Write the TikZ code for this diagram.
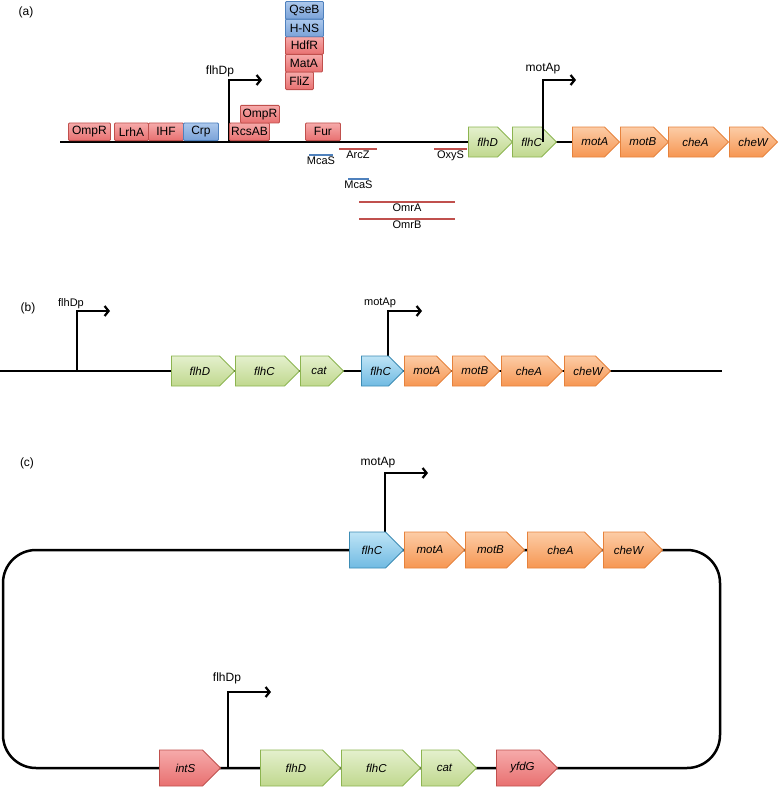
\documentclass[tikz,border=0pt]{standalone}
\usepackage{fontspec}
\setmainfont{Liberation Sans}
\usetikzlibrary{shapes.symbols,arrows.meta}

\definecolor{redtop}{RGB}{246,170,170}
\definecolor{redbot}{RGB}{232,112,112}
\definecolor{reddraw}{RGB}{192,80,77}
\definecolor{bluetop}{RGB}{172,200,236}
\definecolor{bluebot}{RGB}{122,162,216}
\definecolor{bluedraw}{RGB}{79,129,189}
\definecolor{greentop}{RGB}{228,240,205}
\definecolor{greenbot}{RGB}{192,216,142}
\definecolor{greendraw}{RGB}{140,180,80}
\definecolor{orangetop}{RGB}{252,204,166}
\definecolor{orangebot}{RGB}{246,150,82}
\definecolor{orangedraw}{RGB}{230,130,60}
\definecolor{cyantop}{RGB}{190,228,246}
\definecolor{cyanbot}{RGB}{112,186,226}
\definecolor{cyandraw}{RGB}{60,140,180}

\newcommand{\gtxt}[1]{\hspace*{9pt}#1}

\tikzset{
  tf/.style={rectangle,rounded corners=1pt,draw=#1draw,top color=#1top,bottom color=#1bot,
    line width=0.9pt,inner sep=0pt,minimum height=17.6pt,anchor=south west,
    font=\fontsize{12}{14}\selectfont},
  gene/.style={signal,signal to=east,signal pointer angle=90,draw=#1draw,
    top color=#1top,bottom color=#1bot,line width=0.9pt,inner sep=0pt,anchor=west,
    align=center,font=\fontsize{11.5}{13}\selectfont\itshape},
  backbone/.style={line width=2.5pt},
  prom/.style={line width=1.4pt,-{Straight Barb[length=4pt,width=10pt,line width=2.2pt]}},
  rna/.style={line width=2pt,draw=#1},
  rnalab/.style={below,inner sep=1pt,font=\fontsize{11}{13}\selectfont},
  plab/.style={font=\fontsize{12}{14}\selectfont},
  plabel/.style={font=\fontsize{12}{14}\selectfont},
  plabelsm/.style={font=\fontsize{11}{13}\selectfont}
}

\begin{document}
\begin{tikzpicture}[x=1pt,y=-1pt]
\useasboundingbox (0,0) rectangle (780,792);

\node[plab] (labA) at (26,12) {(a)};
\coordinate (bbA1) at (60,142);
\coordinate (bbA2) at (572,142);
\draw[backbone] (bbA1) -- (bbA2);

\coordinate (pDa) at (229,142);
\draw[prom] (pDa) -- ++(0,-62) -- ++(33,0);
\node[plabel] (flhDpA) at (220,71) {flhDp};

\node[tf=red,minimum width=42pt] (ompR) at (68,141) {OmpR};
\node[tf=red,minimum width=34pt] (lrhA) at (114,141) {LrhA};
\node[tf=red,minimum width=35pt] (ihf) at (148,141) {IHF};
\node[tf=blue,minimum width=35pt] (crp) at (183,141) {Crp};
\node[tf=red,minimum width=40pt] (rcsAB) at (229,141) {RcsAB};
\node[tf=red,minimum width=39pt] (ompRb) at (240,123.4) {OmpR};
\node[tf=red,minimum width=35pt] (fur) at (305,141) {Fur};
\node[tf=red,minimum width=28pt] (fliZ) at (285,90) {FliZ};
\node[tf=red,minimum width=37pt] (matA) at (285,72.4) {MatA};
\node[tf=red,minimum width=38pt] (hdfR) at (285,54.8) {HdfR};
\node[tf=blue,minimum width=38pt] (hns) at (285,37.2) {H-NS};
\node[tf=blue,minimum width=38pt] (qseB) at (285,19.6) {QseB};

\draw[rna=bluedraw] (309,155) -- node[rnalab] (mcaS) {McaS} (333,155);
\draw[rna=reddraw] (339,149) -- node[rnalab] (arcZ) {ArcZ} (377,149);
\draw[rna=bluedraw] (348,179) -- node[rnalab] (mcaSb) {McaS} (369,179);
\draw[rna=reddraw] (359,202) -- node[rnalab] (omrA) {OmrA} (455,202);
\draw[rna=reddraw] (359,219) -- node[rnalab] (omrB) {OmrB} (455,219);
\draw[rna=reddraw] (434,149) -- node[rnalab] (oxyS) {OxyS} (467,149);

\foreach \nm/\x/\w/\c/\t [evaluate=\w as \tw using \w-15] in {aflhD/468/44/green/flhD,aflhC/512/44/green/flhC,
  amotA/572/47/orange/motA,amotB/620/48/orange/motB,acheA/668/60/orange/cheA,acheW/729/48/orange/cheW}
\node[gene=\c,text width=\tw pt,minimum width=\w pt,minimum height=30pt] (\nm) at (\x,142) {\gtxt{\t}};

\coordinate (pMa) at (543,142);
\draw[prom] (pMa) -- ++(0,-62) -- ++(33,0);
\node[plabel] (motApA) at (543,69) {motAp};

\node[plab] (labB) at (28,308) {(b)};
\coordinate (bbB1) at (0,371);
\coordinate (bbB2) at (722,371);
\draw[backbone] (bbB1) -- (bbB2);

\coordinate (pDb) at (77,371);
\draw[prom] (pDb) -- ++(0,-60) -- ++(33,0);
\node[plabelsm] (flhDpB) at (71,304) {flhDp};
\coordinate (pMb) at (388,371);
\draw[prom] (pMb) -- ++(0,-60) -- ++(34,0);
\node[plabelsm] (motApB) at (380,303) {motAp};

\foreach \nm/\x/\w/\c/\t [evaluate=\w as \tw using \w-15] in {bflhD/171/63/green/flhD,bflhC/235/64/green/flhC,
  bcat/300/43/green/cat,bflhCc/361/42/cyan/flhC,bmotA/404/47/orange/motA,bmotB/452/47/orange/motB,
  bcheA/501/61/orange/cheA,bcheW/564/46/orange/cheW}
\node[gene=\c,text width=\tw pt,minimum width=\w pt,minimum height=30pt] (\nm) at (\x,371) {\gtxt{\t}};

\node[plab] (labC) at (27,463) {(c)};
\draw[backbone,rounded corners=33pt] (3,550) rectangle (720,768);

\coordinate (pMc) at (385,550);
\draw[prom] (pMc) -- ++(0,-77) -- ++(43,0);
\node[plabel] (motApC) at (378,463) {motAp};
\coordinate (pDc) at (228,768);
\draw[prom] (pDc) -- ++(0,-76) -- ++(43,0);
\node[plabel] (flhDpC) at (227,678) {flhDp};

\foreach \nm/\x/\w/\c/\t [evaluate=\w as \tw using \w-18] in {cflhCc/349/54/cyan/flhC,cmotA/404/60/orange/motA,
  cmotB/465/59/orange/motB,ccheA/527/75/orange/cheA,ccheW/603/59/orange/cheW}
\node[gene=\c,text width=\tw pt,minimum width=\w pt,minimum height=36pt] (\nm) at (\x,550) {\gtxt{\t}};

\foreach \nm/\x/\w/\c/\t [evaluate=\w as \tw using \w-18] in {cintS/159/61/red/intS,cflhD/260/80/green/flhD,
  cflhC/341/79/green/flhC,ccat/421/55/green/cat,cyfdG/496/61/red/yfdG}
\node[gene=\c,text width=\tw pt,minimum width=\w pt,minimum height=36pt] (\nm) at (\x,768) {\gtxt{\t}};
\end{tikzpicture}
\end{document}
